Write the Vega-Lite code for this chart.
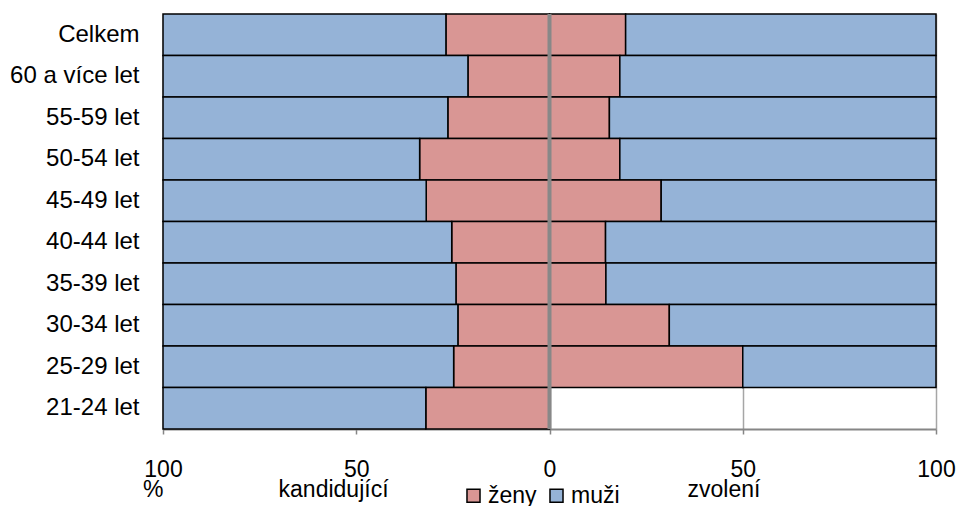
{
  "$schema": "https://vega.github.io/schema/vega-lite/v6.json",
  "width": 773,
  "height": 415,
  "autosize": "none",
  "padding": {"left": 163, "top": 14, "right": 23, "bottom": 77},
  "background": "white",
  "config": {"font": "Liberation Sans", "view": {"stroke": null}},
  "data": {
    "values": [
      {"vek": "Celkem", "skupina": "kandidující", "pohlavi": "ženy", "podil": -26.8},
      {"vek": "Celkem", "skupina": "kandidující", "pohlavi": "muži", "podil": -73.2},
      {"vek": "Celkem", "skupina": "zvolení", "pohlavi": "ženy", "podil": 19.7},
      {"vek": "Celkem", "skupina": "zvolení", "pohlavi": "muži", "podil": 80.3},
      {"vek": "60 a více let", "skupina": "kandidující", "pohlavi": "ženy", "podil": -21.1},
      {"vek": "60 a více let", "skupina": "kandidující", "pohlavi": "muži", "podil": -78.9},
      {"vek": "60 a více let", "skupina": "zvolení", "pohlavi": "ženy", "podil": 18.2},
      {"vek": "60 a více let", "skupina": "zvolení", "pohlavi": "muži", "podil": 81.8},
      {"vek": "55-59 let", "skupina": "kandidující", "pohlavi": "ženy", "podil": -26.3},
      {"vek": "55-59 let", "skupina": "kandidující", "pohlavi": "muži", "podil": -73.7},
      {"vek": "55-59 let", "skupina": "zvolení", "pohlavi": "ženy", "podil": 15.5},
      {"vek": "55-59 let", "skupina": "zvolení", "pohlavi": "muži", "podil": 84.5},
      {"vek": "50-54 let", "skupina": "kandidující", "pohlavi": "ženy", "podil": -33.6},
      {"vek": "50-54 let", "skupina": "kandidující", "pohlavi": "muži", "podil": -66.4},
      {"vek": "50-54 let", "skupina": "zvolení", "pohlavi": "ženy", "podil": 18.2},
      {"vek": "50-54 let", "skupina": "zvolení", "pohlavi": "muži", "podil": 81.8},
      {"vek": "45-49 let", "skupina": "kandidující", "pohlavi": "ženy", "podil": -31.9},
      {"vek": "45-49 let", "skupina": "kandidující", "pohlavi": "muži", "podil": -68.1},
      {"vek": "45-49 let", "skupina": "zvolení", "pohlavi": "ženy", "podil": 28.9},
      {"vek": "45-49 let", "skupina": "zvolení", "pohlavi": "muži", "podil": 71.1},
      {"vek": "40-44 let", "skupina": "kandidující", "pohlavi": "ženy", "podil": -25.3},
      {"vek": "40-44 let", "skupina": "kandidující", "pohlavi": "muži", "podil": -74.7},
      {"vek": "40-44 let", "skupina": "zvolení", "pohlavi": "ženy", "podil": 14.5},
      {"vek": "40-44 let", "skupina": "zvolení", "pohlavi": "muži", "podil": 85.5},
      {"vek": "35-39 let", "skupina": "kandidující", "pohlavi": "ženy", "podil": -24.2},
      {"vek": "35-39 let", "skupina": "kandidující", "pohlavi": "muži", "podil": -75.8},
      {"vek": "35-39 let", "skupina": "zvolení", "pohlavi": "ženy", "podil": 14.6},
      {"vek": "35-39 let", "skupina": "zvolení", "pohlavi": "muži", "podil": 85.4},
      {"vek": "30-34 let", "skupina": "kandidující", "pohlavi": "ženy", "podil": -23.7},
      {"vek": "30-34 let", "skupina": "kandidující", "pohlavi": "muži", "podil": -76.3},
      {"vek": "30-34 let", "skupina": "zvolení", "pohlavi": "ženy", "podil": 31.0},
      {"vek": "30-34 let", "skupina": "zvolení", "pohlavi": "muži", "podil": 69.0},
      {"vek": "25-29 let", "skupina": "kandidující", "pohlavi": "ženy", "podil": -24.8},
      {"vek": "25-29 let", "skupina": "kandidující", "pohlavi": "muži", "podil": -75.2},
      {"vek": "25-29 let", "skupina": "zvolení", "pohlavi": "ženy", "podil": 50.0},
      {"vek": "25-29 let", "skupina": "zvolení", "pohlavi": "muži", "podil": 50.0},
      {"vek": "21-24 let", "skupina": "kandidující", "pohlavi": "ženy", "podil": -32.0},
      {"vek": "21-24 let", "skupina": "kandidující", "pohlavi": "muži", "podil": -68.0}
    ]
  },
  "layer": [
    {
      "mark": {"type": "bar", "stroke": "black", "strokeWidth": 1.5},
      "encoding": {
        "y": {
          "field": "vek",
          "type": "nominal",
          "sort": ["Celkem", "60 a více let", "55-59 let", "50-54 let", "45-49 let", "40-44 let", "35-39 let", "30-34 let", "25-29 let", "21-24 let"],
          "scale": {"paddingInner": 0, "paddingOuter": 0},
          "axis": {"title": null, "ticks": false, "domain": false, "labelFontSize": 24, "labelPadding": 24, "labelColor": "black"}
        },
        "x": {
          "field": "podil",
          "type": "quantitative",
          "stack": "zero",
          "scale": {"domain": [-100, 100], "nice": false},
          "axis": {
            "orient": "bottom",
            "title": null,
            "values": [-100, -50, 0, 50, 100],
            "labelExpr": "abs(datum.value)",
            "grid": true,
            "gridColor": "#a6a6a6",
            "gridWidth": 1.5,
            "domainColor": "#868686",
            "domainWidth": 2,
            "tickColor": "#868686",
            "tickSize": 5,
            "tickWidth": 1.5,
            "labelFontSize": 23,
            "labelPadding": 24,
            "labelColor": "black",
            "labelFlush": false,
            "labelOverlap": false
          }
        },
        "color": {
          "field": "pohlavi",
          "type": "nominal",
          "scale": {"domain": ["ženy", "muži"], "range": ["#D99694", "#95B3D7"]},
          "legend": {
            "orient": "none",
            "legendX": 299,
            "legendY": 470,
            "direction": "horizontal",
            "title": null,
            "padding": 0,
            "symbolType": "square",
            "symbolSize": 170,
            "symbolStrokeColor": "black",
            "symbolStrokeWidth": 1.5,
            "symbolOpacity": 1,
            "labelFontSize": 23,
            "labelOffset": 3,
            "columnPadding": 8,
            "labelColor": "black"
          }
        },
        "order": {"field": "pohlavi", "sort": "descending"}
      }
    },
    {
      "data": {"values": [{"nula": 0}]},
      "mark": {"type": "rule", "color": "#888888", "strokeWidth": 4},
      "encoding": {
        "x": {
          "field": "nula",
          "type": "quantitative",
          "axis": {
            "orient": "bottom",
            "title": null,
            "values": [-100, -56, 45],
            "labelExpr": "datum.value == -100 ? '%' : (datum.value < 0 ? 'kandidující' : 'zvolení')",
            "domain": false,
            "ticks": false,
            "grid": false,
            "labelPadding": 49,
            "labelFontSize": 23,
            "labelColor": "black",
            "labelFlush": false,
            "labelOverlap": false,
            "labelAlign": {"condition": {"test": "datum.value == -100", "value": "right"}, "value": "center"}
          }
        }
      }
    }
  ],
  "resolve": {"axis": {"x": "independent"}}
}
